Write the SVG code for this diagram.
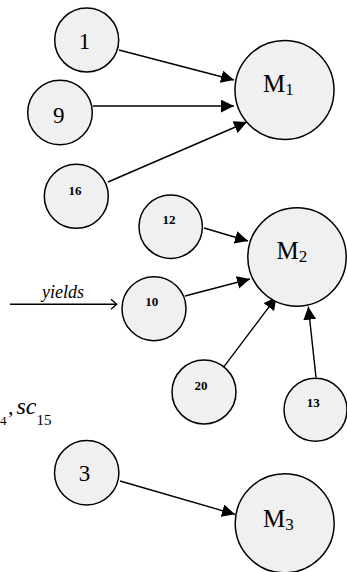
<svg xmlns="http://www.w3.org/2000/svg" width="347" height="572" viewBox="0 0 347 572">
<style>
.n{fill:#f0f0f0;stroke:#000;stroke-width:1.5}
.t{font-family:"Liberation Serif","Times New Roman","DejaVu Serif",serif;fill:#000}
.big{font-size:23px}
.m{font-size:25px}
.sub{font-size:17px}
.sm{font-size:13px;font-weight:bold}
.e{stroke:#000;stroke-width:1.4;fill:none}
</style>
<defs>
<marker id="ah" markerUnits="userSpaceOnUse" markerWidth="14" markerHeight="14" refX="13" refY="6.4" orient="auto">
<path d="M0,0 L13,6.4 L0,12.8 Z" fill="#000"/>
</marker>
</defs>
<rect width="347" height="572" fill="#fff"/>
<g id="connectors">
<line class="e" x1="119" y1="50" x2="234" y2="80" marker-end="url(#ah)"/>
<line class="e" x1="93" y1="106" x2="234" y2="106" marker-end="url(#ah)"/>
<line class="e" x1="108" y1="182" x2="247" y2="122" marker-end="url(#ah)"/>
<line class="e" x1="204" y1="228" x2="248" y2="241" marker-end="url(#ah)"/>
<line class="e" x1="185" y1="296" x2="250" y2="279" marker-end="url(#ah)"/>
<line class="e" x1="222.7" y1="368.3" x2="276.7" y2="296.7" marker-end="url(#ah)"/>
<line class="e" x1="316" y1="377.3" x2="308.3" y2="306.7" marker-end="url(#ah)"/>
<line class="e" x1="120" y1="481" x2="235" y2="514.3" marker-end="url(#ah)"/>
<line class="e" x1="10" y1="304.3" x2="116.5" y2="304.3"/>
<polyline class="e" points="111,299.3 116.7,304.3 111,309.3"/>
</g>
<g id="n1"><circle class="n" cx="86.7" cy="40" r="32"/><text class="t big" x="84.5" y="49" text-anchor="middle">1</text></g>
<g id="n9"><circle class="n" cx="60" cy="112.5" r="32.3"/><text class="t big" x="58.7" y="123.3" text-anchor="middle">9</text></g>
<g id="n16"><circle class="n" cx="76.3" cy="196.3" r="32"/><text class="t sm" x="75" y="195" text-anchor="middle">16</text></g>
<g id="M1"><circle class="n" cx="284.5" cy="90" r="49.5"/><text class="t m" x="263" y="92">M<tspan class="sub" dy="3">1</tspan></text></g>
<g id="n12"><circle class="n" cx="170.7" cy="226.7" r="31.7"/><text class="t sm" x="169" y="224" text-anchor="middle">12</text></g>
<g id="M2"><circle class="n" cx="297" cy="257" r="49.2"/><text class="t m" x="276.5" y="259">M<tspan class="sub" dy="3">2</tspan></text></g>
<g id="n10"><circle class="n" cx="154" cy="308.7" r="32"/><text class="t sm" x="151.7" y="306" text-anchor="middle">10</text></g>
<g id="n20"><circle class="n" cx="204" cy="392" r="32"/><text class="t sm" x="201" y="390" text-anchor="middle">20</text></g>
<g id="n13"><circle class="n" cx="315.5" cy="409.7" r="31.5"/><text class="t sm" x="313.3" y="406.7" text-anchor="middle">13</text></g>
<g id="n3"><circle class="n" cx="86.7" cy="472.7" r="32.2"/><text class="t big" x="84.5" y="481" text-anchor="middle">3</text></g>
<g id="M3"><circle class="n" cx="284.7" cy="523.3" r="49.5"/><text class="t m" x="263" y="527">M<tspan class="sub" dy="3">3</tspan></text></g>
<g id="labels">
<text class="t" x="42" y="298" font-size="18" font-style="italic">yields</text>
<text class="t" x="0" y="425" font-size="13">4</text>
<text class="t" x="8" y="414" font-size="22">,</text>
<text class="t" x="16.5" y="414" font-size="24" font-style="italic">sc</text>
<text class="t" x="36.5" y="425" font-size="15">15</text>
</g>
</svg>
